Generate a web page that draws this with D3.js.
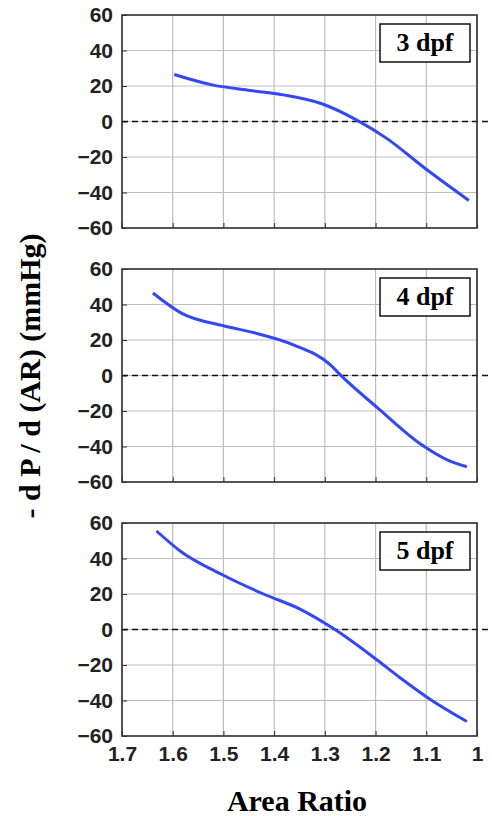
<!DOCTYPE html>
<html>
<head>
<meta charset="utf-8">
<script src="https://cdn.jsdelivr.net/npm/d3@7"></script>
<style>
  body { margin: 0; background: #fff; }
  svg { display: block; }
</style>
</head>
<body>
<div id="chart"></div>
<script>
// area ratio values (x) and -dP/d(AR) (y) for each panel
const panelLabels = ['3 dpf', '4 dpf', '5 dpf'];
const ar3 = [1.597, 1.52, 1.447, 1.382, 1.306, 1.237, 1.178, 1.102, 1.016];
const dp3 = [26.5, 20.5, 17.5, 15.0, 10.0, 0.8, -9.5, -26.5, -44.5];
const ar4 = [1.639, 1.582, 1.5, 1.441, 1.362, 1.289, 1.27, 1.197, 1.112, 1.059, 1.02];
const dp4 = [46.5, 35.0, 28.0, 24.2, 17.3, 6.0, 0.5, -18.0, -38.5, -47.5, -51.4];
const ar5 = [1.632, 1.582, 1.503, 1.421, 1.349, 1.283, 1.197, 1.151, 1.092, 1.02];
const dp5 = [55.5, 43.5, 31.0, 20.0, 11.5, 0.5, -17.2, -27.3, -39.4, -51.8];
const xTicks = [1.7, 1.6, 1.5, 1.4, 1.3, 1.2, 1.1, 1.0];
const yTicks = [-60, -40, -20, 0, 20, 40, 60];

const series = [
    {label: panelLabels[0], x: ar3, y: dp3},
    {label: panelLabels[1], x: ar4, y: dp4},
    {label: panelLabels[2], x: ar5, y: dp5}
];

const W = 492, H = 816;
const left = 122, right = 477;
const panelTops = [15, 269, 523];
const panelH = 213;

const svg = d3.select('#chart').append('svg')
    .attr('width', W)
    .attr('height', H);

const x = d3.scaleLinear().domain([1.7, 1.0]).range([left, right]);

series.forEach((s, i) => {
    const top = panelTops[i];
    const y = d3.scaleLinear().domain([-60, 60]).range([top + panelH, top]);
    const g = svg.append('g');

    // grid
    g.selectAll('.vgrid').data(xTicks).enter().append('line')
        .attr('x1', d => x(d)).attr('x2', d => x(d))
        .attr('y1', top).attr('y2', top + panelH)
        .attr('stroke', '#bdbdbd').attr('stroke-width', 1.2);
    g.selectAll('.hgrid').data(yTicks).enter().append('line')
        .attr('x1', left).attr('x2', right)
        .attr('y1', d => y(d)).attr('y2', d => y(d))
        .attr('stroke', '#bdbdbd').attr('stroke-width', 1.2);

    // axes with inward ticks
    const yAxis = d3.axisLeft(y).tickValues(yTicks).tickSize(-5).tickPadding(9);
    const ya = g.append('g').attr('transform', `translate(${left},0)`).call(yAxis);
    ya.select('.domain').remove();
    ya.selectAll('line').attr('stroke', '#333');
    ya.selectAll('text')
        .attr('font-family', 'Liberation Sans, Arial, sans-serif')
        .attr('font-weight', 'bold')
        .attr('font-size', 21)
        .attr('fill', '#222');

    const xAxis = d3.axisBottom(x).tickValues(xTicks).tickSize(-5).tickPadding(10)
        .tickFormat(d => d3.format('')(d));
    const xa = g.append('g').attr('transform', `translate(0,${top + panelH})`).call(xAxis);
    xa.select('.domain').remove();
    xa.selectAll('line').attr('stroke', '#333');
    if (i < 2) {
        xa.selectAll('text').remove();
    } else {
        xa.selectAll('text')
            .attr('font-family', 'Liberation Sans, Arial, sans-serif')
            .attr('font-weight', 'bold')
            .attr('font-size', 21)
            .attr('fill', '#222');
    }

    // zero reference line
    g.append('line')
        .attr('x1', x(1.7)).attr('x2', x(0.97))
        .attr('y1', y(0)).attr('y2', y(0))
        .attr('stroke', '#111').attr('stroke-width', 1.5)
        .attr('stroke-dasharray', '6,4');

    // box
    g.append('rect')
        .attr('x', left).attr('y', top)
        .attr('width', right - left).attr('height', panelH)
        .attr('fill', 'none').attr('stroke', '#333').attr('stroke-width', 1.6);

    // curve
    const pts = s.x.map((v, k) => [v, s.y[k]]);
    g.append('path')
        .datum(pts)
        .attr('d', d3.line().x(d => x(d[0])).y(d => y(d[1])).curve(d3.curveMonotoneX))
        .attr('fill', 'none')
        .attr('stroke', '#3347f5')
        .attr('stroke-width', 3);

    // label box
    const bx = 380, bw = 90, by = y(60) + 9, bh = 38;
    g.append('rect')
        .attr('x', bx).attr('y', by)
        .attr('width', bw).attr('height', bh)
        .attr('fill', '#fff').attr('stroke', '#111').attr('stroke-width', 1.5);
    g.append('text')
        .attr('x', bx + bw / 2).attr('y', by + bh / 2 + 8)
        .attr('text-anchor', 'middle')
        .attr('font-family', 'Liberation Serif, Times New Roman, serif')
        .attr('font-weight', 'bold')
        .attr('font-size', 26)
        .text(s.label);
});

// axis titles
svg.append('text')
    .attr('x', 297)
    .attr('y', 811)
    .attr('text-anchor', 'middle')
    .attr('font-family', 'Liberation Serif, Times New Roman, serif')
    .attr('font-weight', 'bold')
    .attr('font-size', 30)
    .text('Area Ratio');

svg.append('text')
    .attr('transform', `translate(40,376) rotate(-90)`)
    .attr('text-anchor', 'middle')
    .attr('font-family', 'Liberation Serif, Times New Roman, serif')
    .attr('font-weight', 'bold')
    .attr('font-size', 30)
    .text('- d P / d (AR) (mmHg)');
</script>
</body>
</html>
